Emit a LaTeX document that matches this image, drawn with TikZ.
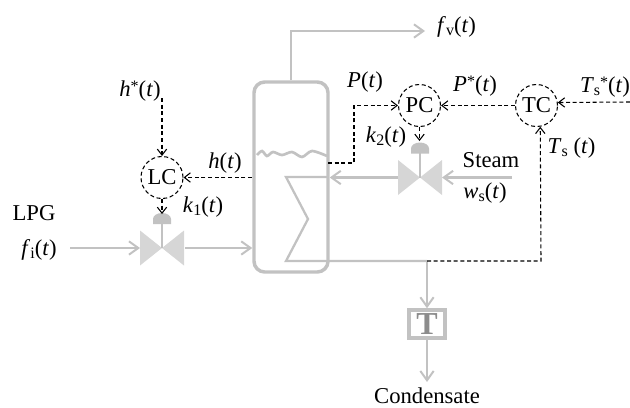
\documentclass[tikz,border=0pt]{standalone}
\usepackage{fontspec}
\setmainfont{Liberation Serif}
\usetikzlibrary{arrows.meta}
\newcommand{\lowsub}[1]{\raisebox{-.3ex}{\fontsize{12}{12}\selectfont #1}}
\newcommand{\highstar}{\raisebox{.45ex}{\fontsize{12}{12}\selectfont *}}
\tikzset{
  pipe/.style={draw=pipegray,line width=1.7pt},
  flow/.style={pipe,-{Straight Barb[length=7pt,width=10pt,line width=1.5pt]}},
  sig/.style={black,densely dashed,line width=.8pt,-{Straight Barb[length=4.5pt,width=7pt]}},
  ctrl/.style={circle,draw,densely dashed,line width=.8pt,minimum size=31.5pt,inner sep=0pt},
  lbl/.style={inner sep=0pt},
  valve/.pic={
    \fill[valvegray] (-22,-17.5) -- (0,0) -- (-22,17.5) -- cycle (22,-17.5) -- (0,0) -- (22,17.5) -- cycle;
    \draw[draw=pipegray,line width=1.5pt] (0,0) -- (0,-25);
    \fill[pipegray] (-9,-24) -- (9,-24) -- (9,-29) arc[start angle=0,end angle=-180,x radius=9,y radius=6] -- cycle;
  }
}
\definecolor{pipegray}{HTML}{C2C2C2}
\definecolor{valvegray}{HTML}{D6D6D6}
\begin{document}
\begin{tikzpicture}[x=.75pt,y=-.75pt,font=\fontsize{17}{20}\selectfont]
  \useasboundingbox (0,0) rectangle (630,407);
  % vessel and coil
  \node[draw=pipegray,line width=2.6pt,rounded corners=8pt,minimum width=55.5pt,minimum height=142.5pt,inner sep=0pt] (vessel) at (291,177) {};
  \draw[pipegray,line width=2pt,smooth] plot coordinates {(257,155) (262,151) (267,156) (273,152) (282,155) (292,152) (302,157) (312,151) (327,156)};
  \coordinate (lcv) at (162,248);
  \coordinate (pcv) at (420,177.5);
  \coordinate (tee) at (427,261);
  \draw[pipe,line join=miter] (328,177) -- (286,177) -- (308,219) -- (286,261) -- (tee);
  % valves
  \pic at (lcv) {valve};
  \pic at (pcv) {valve};
  % controllers
  \node[ctrl] (LC) at (162,177.5) {LC};
  \node[ctrl] (PC) at (419.5,105.5) {PC};
  \node[ctrl] (TC) at (536.5,105.5) {TC};
  \node[draw=pipegray,line width=2.6pt,minimum width=27pt,minimum height=21pt,inner sep=0pt,text=gray!90,font=\fontsize{24}{24}\selectfont\bfseries] (trap) at (427,324) {T};
  % labels
  \node[lbl] (fv) at (456.5,27) {\textit{f}\lowsub{v}(\textit{t})};
  \node[lbl] (LPG) at (34,213) {LPG};
  \node[lbl] (fi) at (39,250) {\textit{f}\lowsub{i}(\textit{t})};
  \node[lbl] (hs) at (140,91) {\textit{h}\highstar(\textit{t})};
  \node[lbl] (h) at (225,163) {\textit{h}(\textit{t})};
  \node[lbl] (k1) at (203,207) {\textit{k}\lowsub{1}(\textit{t})};
  \node[lbl] (P) at (365,82) {\textit{P}(\textit{t})};
  \node[lbl] (Ps) at (475,86) {\textit{P}\highstar(\textit{t})};
  \node[lbl] (k2) at (386,137) {\textit{k}\lowsub{2}(\textit{t})};
  \node[lbl] (Tss) at (605,87) {\textit{T}\lowsub{s}\highstar(\textit{t})};
  \node[lbl] (Ts) at (571.5,148) {\textit{T}\lowsub{s} (\textit{t})};
  \node[lbl] (steam) at (491,160) {Steam};
  \node[lbl] (ws) at (485,193) {\textit{w}\lowsub{s}(\textit{t})};
  \node[lbl] (cond) at (427,396) {Condensate};
  % free ends
  \coordinate (fvend) at (425,31);
  \coordinate (fiend) at (70,248);
  \coordinate (stend) at (512,177.5);
  \coordinate (condend) at (427,382);
  \coordinate (hsend) at (162,98);
  \coordinate (hend) at (252,177.5);
  \coordinate (pend) at (328,163);
  \coordinate (tsend) at (630,102);
  % process lines
  \draw[flow] (vessel.north) |- (fvend);
  \draw[flow] (fiend) -- ++(70,0);
  \draw[flow] (185,248) -- (lcv -| vessel.west);
  \draw[flow] (398,177.5) -- (vessel.east |- pcv);
  \draw[flow] (stend) -- (442,177.5);
  \draw[flow] (tee) -- (trap.north);
  \draw[flow] (trap.south) -- (condend);
  % signal lines
  \draw[sig] (hsend) -- (LC.north);
  \draw[sig] (hend) -- (LC.east);
  \draw[sig] (LC.south) -- ++(0,15);
  \draw[sig] (pend) -- ++(26,0) |- (PC.west);
  \draw[sig] (PC.south) -- ++(0,14);
  \draw[sig] (TC.west) -- (PC.east);
  \draw[sig] (tsend) -- (TC.8);
  \draw[sig] (tee) -- (541,261) -- (TC.-80);
\end{tikzpicture}
\end{document}
